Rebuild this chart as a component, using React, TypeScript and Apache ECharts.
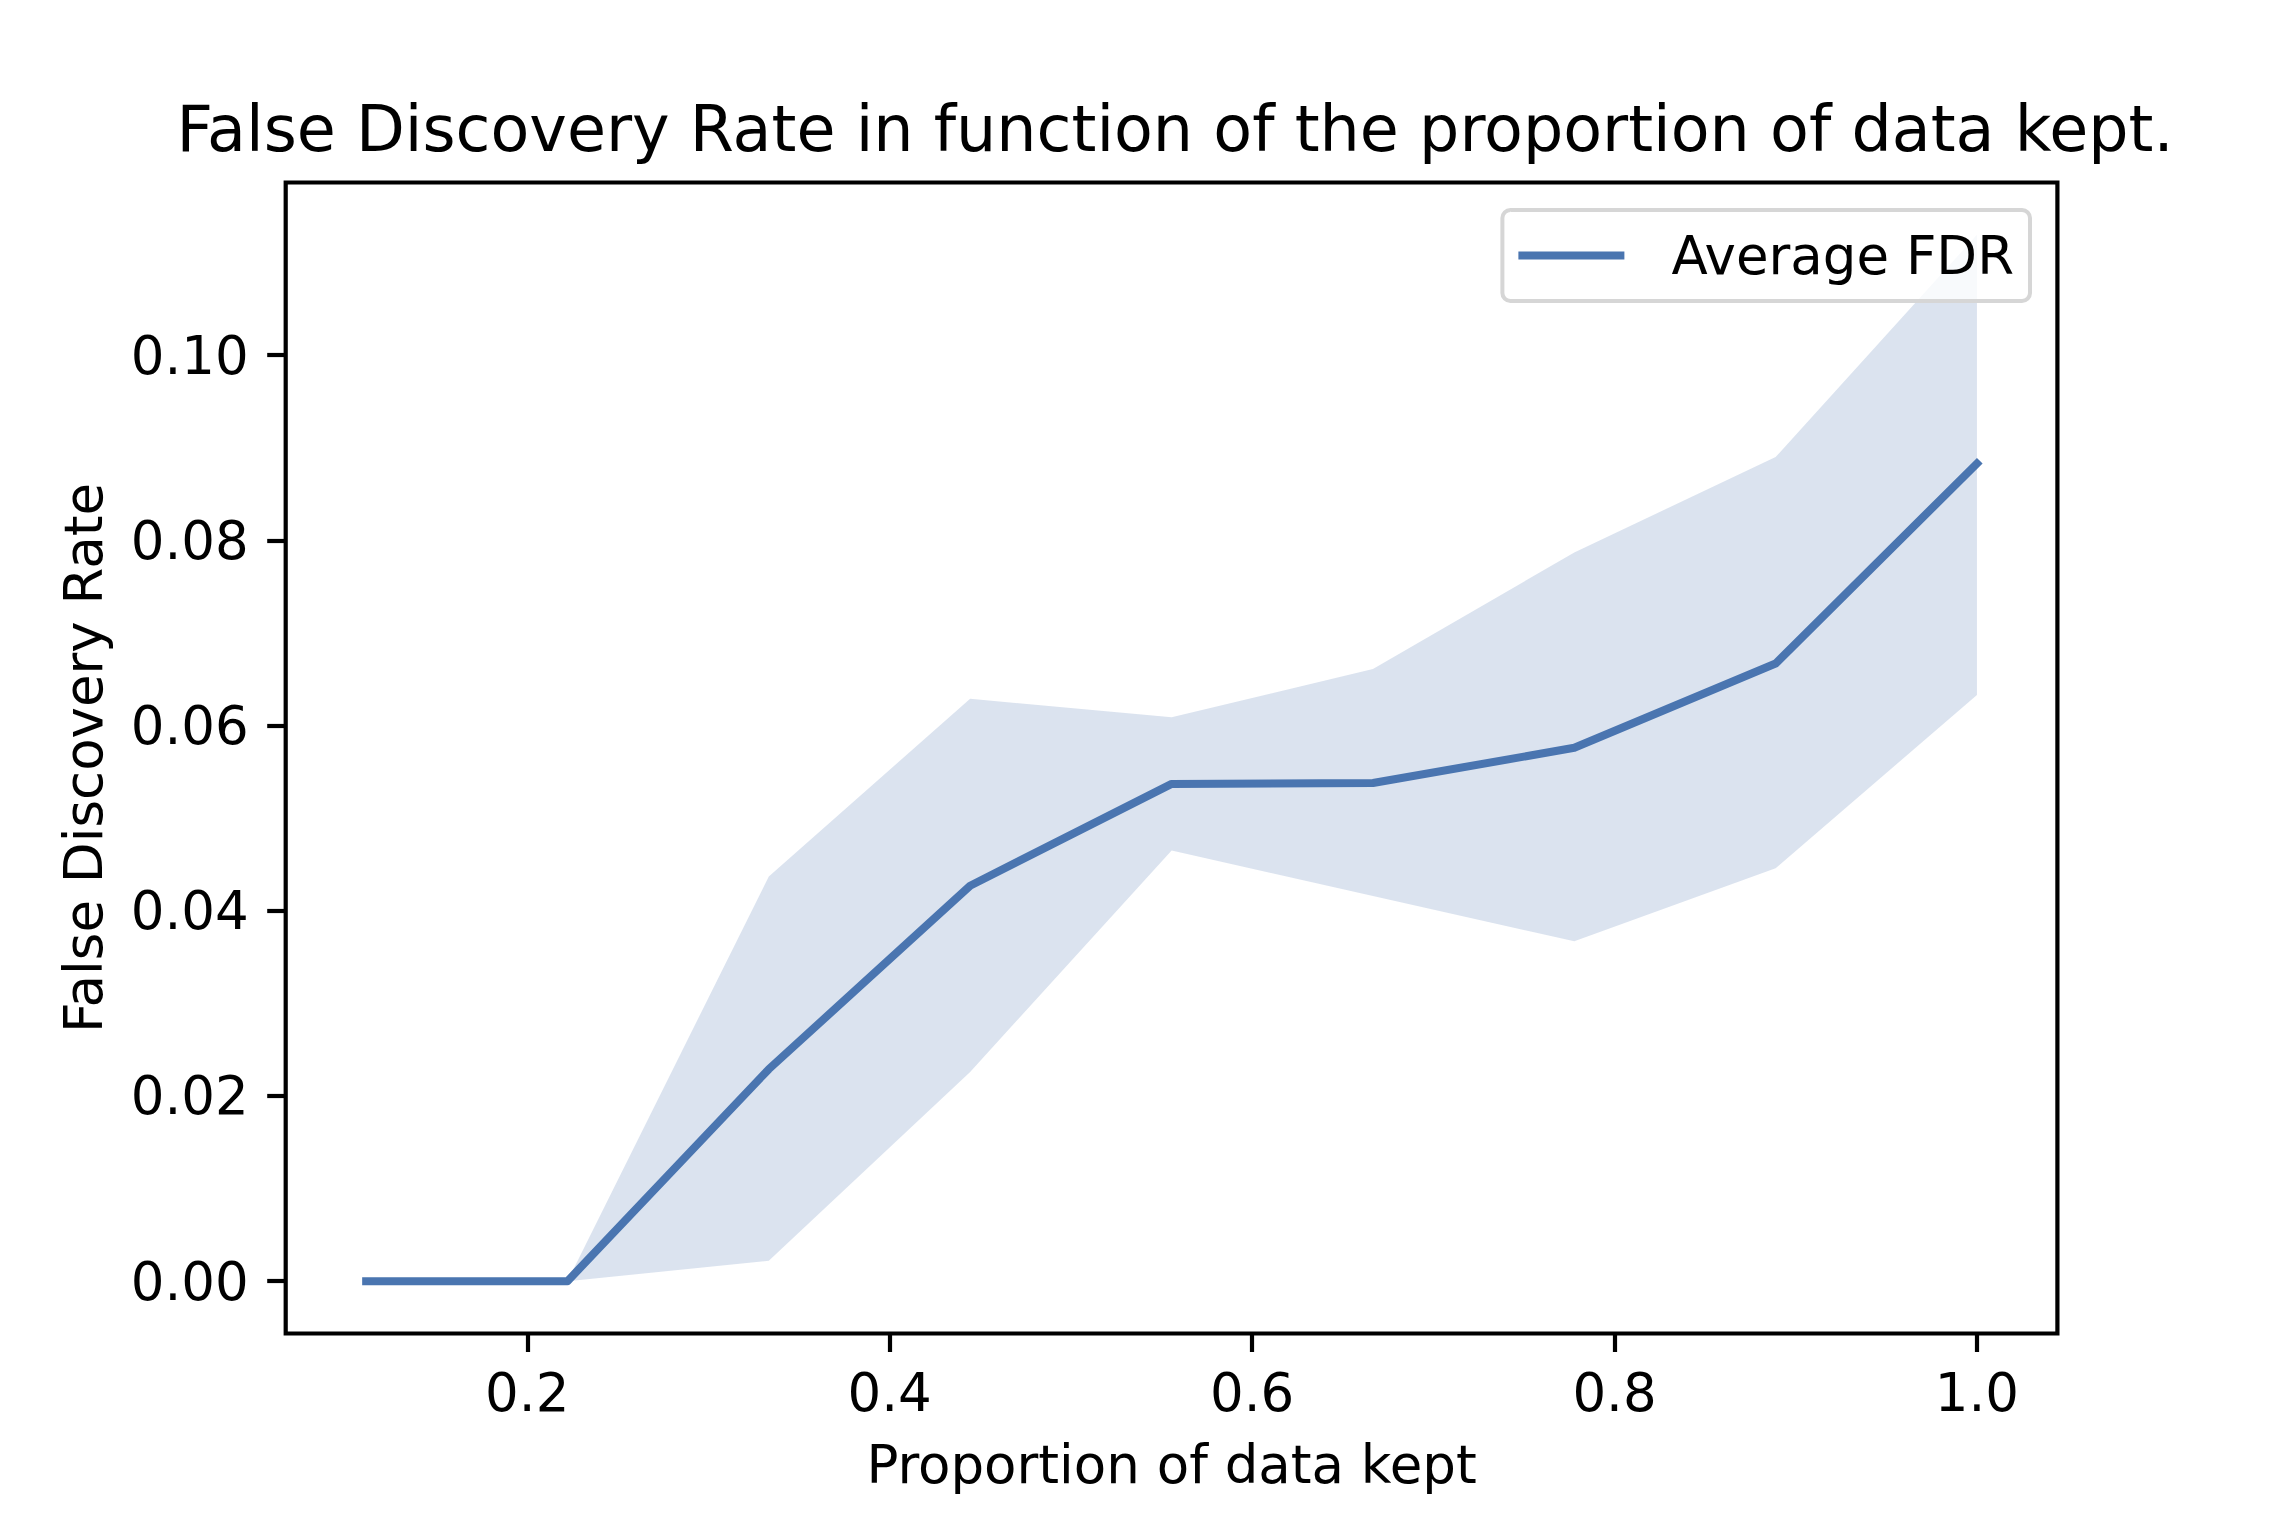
import React, { useEffect, useRef } from "react";
import * as echarts from "echarts";

const xValues = [0.1111, 0.2222, 0.3333, 0.4444, 0.5556, 0.6667, 0.7778, 0.8889, 1.0];
const meanFDR = [0, 0, 0.0229, 0.0427, 0.0537, 0.0538, 0.0576, 0.0667, 0.0883];
const upperFDR = [0, 0, 0.0437, 0.0629, 0.0609, 0.0661, 0.0787, 0.089, 0.113];
const lowerFDR = [0, 0, 0.0022, 0.0226, 0.0465, 0.0416, 0.0367, 0.0446, 0.0633];
const xTicks = [0.2, 0.4, 0.6, 0.8, 1.0];
const yTicks = [0, 0.02, 0.04, 0.06, 0.08, 0.1];

const TITLE = "False Discovery Rate in function of the proportion of data kept.";
const X_NAME = "Proportion of data kept";
const Y_NAME = "False Discovery Rate";
const SERIES_NAME = "Average FDR";

const LINE_COLOR = "#4a75b0";
const FONT = "DejaVu Sans";

export default function App() {
  const ref = useRef<HTMLDivElement>(null);

  useEffect(() => {
    document.body.style.margin = "0";
    if (!ref.current) return;
    const chart = echarts.init(ref.current, undefined, { renderer: "svg" });

    const bandData = xValues.map((x, i) => [x, lowerFDR[i], upperFDR[i]]);
    const lineData = xValues.map((x, i) => [x, meanFDR[i]]);

    const option: any = {
      animation: false,
      backgroundColor: "#ffffff",
      textStyle: { fontFamily: FONT },
      title: {
        text: TITLE,
        left: 1175,
        top: 97,
        textAlign: "center",
        padding: 0,
        textStyle: { fontFamily: FONT, fontSize: 63.5, fontWeight: "normal", color: "#000" },
      },
      grid: {
        left: 285.7,
        right: 228.6,
        top: 182.5,
        bottom: 190.5,
        show: true,
        borderColor: "#000",
        borderWidth: 4.2,
        backgroundColor: "transparent",
      },
      legend: {
        data: [SERIES_NAME],
        right: 256,
        top: 210,
        orient: "vertical",
        icon: "rect",
        itemWidth: 106,
        itemHeight: 8,
        padding: [19, 16, 19, 16],
        backgroundColor: "rgba(255,255,255,0.8)",
        borderColor: "#d6d6d6",
        borderWidth: 4,
        borderRadius: 8,
        textStyle: { fontFamily: FONT, fontSize: 53, color: "#000", padding: [0, 0, 0, 42] },
        selectedMode: false,
      },
      xAxis: {
        type: "value",
        min: 0.0667,
        max: 1.0444,
        name: X_NAME,
        nameLocation: "middle",
        nameGap: 104,
        nameTextStyle: { fontFamily: FONT, fontSize: 53, color: "#000" },
        axisLine: { show: false, onZero: false },
        axisTick: {
          show: true,
          length: 18.5,
          inside: false,
          customValues: xTicks,
          lineStyle: { color: "#000", width: 4.2 },
        },
        axisLabel: {
          show: true,
          margin: 32,
          customValues: xTicks,
          fontFamily: FONT,
          fontSize: 53,
          color: "#000",
          formatter: (v: number) => v.toFixed(1),
        },
        splitLine: { show: false },
      },
      yAxis: {
        type: "value",
        min: -0.00565,
        max: 0.11865,
        name: Y_NAME,
        nameLocation: "middle",
        nameGap: 176,
        nameTextStyle: { fontFamily: FONT, fontSize: 53, color: "#000" },
        axisLine: { show: false, onZero: false },
        axisTick: {
          show: true,
          length: 18.5,
          inside: false,
          customValues: yTicks,
          lineStyle: { color: "#000", width: 4.2 },
        },
        axisLabel: {
          show: true,
          margin: 37,
          customValues: yTicks,
          fontFamily: FONT,
          fontSize: 53,
          color: "#000",
          formatter: (v: number) => v.toFixed(2),
        },
        splitLine: { show: false },
      },
      series: [
        {
          type: "custom",
          name: "band",
          clip: true,
          z: 1,
          silent: true,
          data: bandData,
          encode: { x: 0, y: [1, 2] },
          renderItem: (params: any, api: any) => {
            if (params.dataIndex !== 0) return null;
            const top = xValues.map((x, i) => api.coord([x, upperFDR[i]]));
            const bottom = xValues.map((x, i) => api.coord([x, lowerFDR[i]])).reverse();
            return {
              type: "polygon",
              shape: { points: top.concat(bottom) },
              style: { fill: "#4c72b0", opacity: 0.2, stroke: "none" },
            };
          },
        },
        {
          type: "line",
          name: SERIES_NAME,
          data: lineData,
          showSymbol: false,
          symbol: "none",
          z: 3,
          itemStyle: { color: LINE_COLOR },
          lineStyle: { color: LINE_COLOR, width: 8, cap: "square", join: "round" },
        },
      ],
    };

    chart.setOption(option);
    return () => chart.dispose();
  }, []);

  return <div ref={ref} style={{ width: 2286, height: 1524 }} />;
}
